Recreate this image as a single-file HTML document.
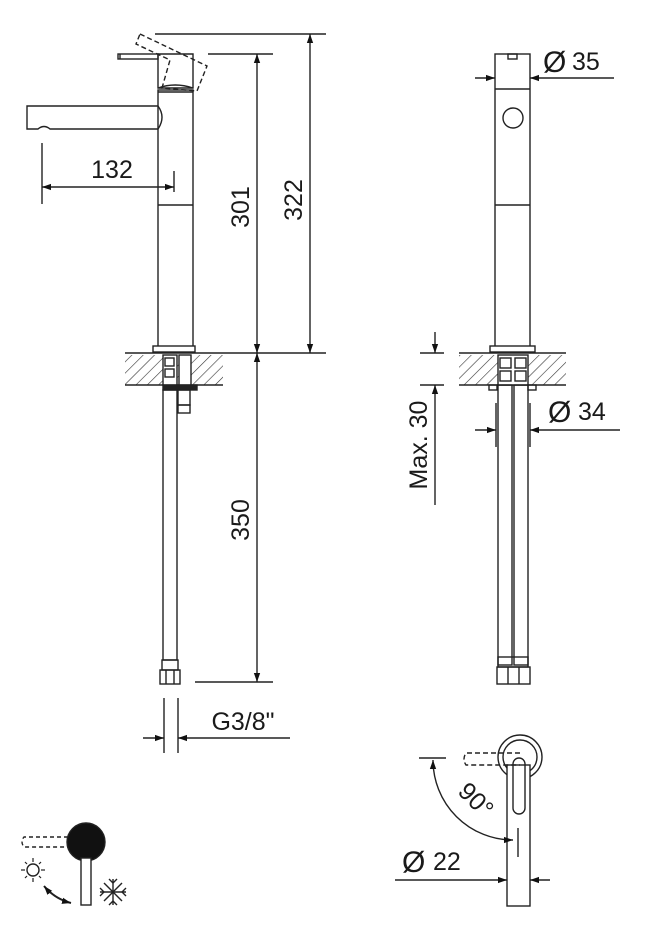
<!DOCTYPE html>
<html><head><meta charset="utf-8"><style>
html,body{margin:0;padding:0;background:#fff}
svg{display:block}
text{font-family:"Liberation Sans",sans-serif;fill:#1a1a1a}
</style></head><body>
<svg width="646" height="950" viewBox="0 0 646 950" xmlns="http://www.w3.org/2000/svg">
<defs>
<pattern id="h" width="8" height="8" patternUnits="userSpaceOnUse" patternTransform="rotate(45)">
<line x1="0" y1="0" x2="0" y2="8" stroke="#333" stroke-width="1.2"/>
</pattern>
<marker id="a" viewBox="0 0 10 10" refX="10" refY="5" markerWidth="9" markerHeight="9" orient="auto-start-reverse" markerUnits="userSpaceOnUse">
<path d="M0,1.5 L10,5 L0,8.5 Z" fill="#111"/>
</marker>
</defs>
<g stroke="#222" stroke-width="1.4" fill="none">
<!-- LEFT VIEW -->
<!-- spout -->
<path d="M158,106 L27,106 L27,129 L38,129 Q44,124 50,129 L158,129"/>
<path d="M158,106 Q166,117 158,129"/>
<!-- body -->
<rect x="158" y="90" width="35" height="260"/>
<line x1="158" y1="205" x2="193" y2="205"/>
<line x1="158" y1="92" x2="193" y2="92"/>
<!-- handle -->
<rect x="118" y="54" width="40" height="5"/>
<line x1="120" y1="54" x2="120" y2="59"/>
<path d="M158,54 L193,54 L193,88 L158,88 Z"/>
<path d="M158,88 Q175,82 193,88"/>
<g stroke-dasharray="5,3">
<path d="M140,34 L207,66 L197,91 L162,88 L170,60 L136,44 Z"/>
</g>
<!-- base, hatch -->
<rect x="125" y="355" width="98" height="30" fill="url(#h)" stroke="none"/>
<line x1="125" y1="385" x2="223" y2="385"/>
<line x1="125" y1="353" x2="326" y2="353"/>
<rect x="153" y="346" width="42" height="6" fill="#fff"/>
<rect x="163" y="355" width="14" height="30" fill="#fff"/>
<rect x="165" y="358" width="9" height="8"/>
<rect x="165" y="369" width="9" height="8"/>
<rect x="179" y="355" width="12" height="30" fill="#fff"/>
<rect x="163" y="385" width="34" height="5" fill="#222"/>
<rect x="163" y="390" width="14" height="270"/>
<rect x="178" y="390" width="12" height="15"/>
<rect x="178" y="405" width="12" height="8"/>
<rect x="162" y="660" width="16" height="10"/>
<rect x="160" y="670" width="20" height="14"/>
<line x1="166" y1="670" x2="166" y2="684"/><line x1="174" y1="670" x2="174" y2="684"/>
<!-- dims left -->
<line x1="42" y1="143" x2="42" y2="204"/>
<line x1="174" y1="171" x2="174" y2="192"/>
<line x1="42" y1="187" x2="174" y2="187" marker-start="url(#a)" marker-end="url(#a)"/>
<line x1="208" y1="54" x2="273" y2="54"/>
<line x1="257" y1="54" x2="257" y2="353" marker-start="url(#a)" marker-end="url(#a)"/>
<line x1="155" y1="34" x2="326" y2="34"/>
<line x1="310" y1="34" x2="310" y2="353" marker-start="url(#a)" marker-end="url(#a)"/>
<line x1="257" y1="353" x2="257" y2="682" marker-start="url(#a)" marker-end="url(#a)"/>
<line x1="195" y1="682" x2="273" y2="682"/>
<line x1="164" y1="698" x2="164" y2="753"/>
<line x1="178" y1="698" x2="178" y2="753"/>
<line x1="143" y1="738" x2="164" y2="738" marker-end="url(#a)"/>
<line x1="290" y1="738" x2="178" y2="738" marker-end="url(#a)"/>

<!-- RIGHT VIEW -->
<rect x="495" y="54" width="35" height="296"/>
<line x1="495" y1="89" x2="530" y2="89"/>
<line x1="495" y1="205" x2="530" y2="205"/>
<rect x="508" y="54" width="9" height="5"/>
<circle cx="513" cy="118" r="10"/>
<line x1="475" y1="78" x2="495" y2="78" marker-end="url(#a)"/>
<line x1="614" y1="78" x2="530" y2="78" marker-end="url(#a)"/>
<rect x="459" y="355" width="107" height="30" fill="url(#h)" stroke="none"/>
<line x1="459" y1="353" x2="566" y2="353"/>
<line x1="459" y1="385" x2="566" y2="385"/>
<rect x="490" y="346" width="45" height="6" fill="#fff"/>
<rect x="498" y="355" width="30" height="30" fill="#fff"/>
<rect x="500" y="358" width="11" height="10"/><rect x="500" y="371" width="11" height="10"/>
<rect x="515" y="358" width="11" height="10"/><rect x="515" y="371" width="11" height="10"/>
<rect x="489" y="385" width="8" height="5"/><rect x="528" y="385" width="8" height="5"/>
<rect x="498" y="385" width="14" height="280"/>
<rect x="514" y="385" width="14" height="280"/>
<line x1="496" y1="403" x2="496" y2="447"/>
<line x1="530" y1="403" x2="530" y2="447"/>
<line x1="475" y1="430" x2="496" y2="430" marker-end="url(#a)"/>
<line x1="620" y1="430" x2="530" y2="430" marker-end="url(#a)"/>
<rect x="498" y="657" width="30" height="10"/>
<rect x="497" y="667" width="33" height="17"/>
<line x1="508" y1="667" x2="508" y2="684"/><line x1="519" y1="667" x2="519" y2="684"/>
<line x1="420" y1="353" x2="444" y2="353"/>
<line x1="420" y1="385" x2="444" y2="385"/>
<line x1="435" y1="332" x2="435" y2="353" marker-end="url(#a)"/>
<line x1="435" y1="505" x2="435" y2="385" marker-end="url(#a)"/>

<!-- BOTTOM RIGHT -->
<circle cx="520" cy="757" r="22"/>
<circle cx="520" cy="757" r="17"/>
<rect x="507" y="765" width="23" height="141" fill="#fff"/>
<rect x="513" y="758" width="12" height="56" rx="6"/>
<path d="M520,753 L466,753 Q462,759 466,765 L520,765" stroke-dasharray="5,3"/>
<line x1="419" y1="758" x2="446" y2="758"/>
<path d="M433,760 A80,80 0 0 0 513,840" marker-start="url(#a)" marker-end="url(#a)"/>
<line x1="518" y1="828" x2="518" y2="857"/>
<line x1="395" y1="880" x2="507" y2="880" marker-end="url(#a)"/>
<line x1="550" y1="880" x2="530" y2="880" marker-end="url(#a)"/>

<!-- BOTTOM LEFT ICON -->
<ellipse cx="86" cy="842" rx="19" ry="19" fill="#111"/>
<rect x="81" y="858" width="10" height="47" fill="#fff"/>
<path d="M68,837 L24,837 Q20,842 24,847 L68,847" stroke-dasharray="4,3"/>
<circle cx="33" cy="870" r="6"/>
<g stroke-width="1.2">
<line x1="33" y1="858" x2="33" y2="862"/><line x1="33" y1="878" x2="33" y2="882"/>
<line x1="21" y1="870" x2="25" y2="870"/><line x1="41" y1="870" x2="45" y2="870"/>
<line x1="25" y1="862" x2="27" y2="864"/><line x1="39" y1="876" x2="41" y2="878"/>
<line x1="41" y1="862" x2="39" y2="864"/><line x1="25" y1="878" x2="27" y2="876"/>
</g>
<path d="M44,886 Q55,899 71,903" stroke-width="2" marker-start="url(#a)" marker-end="url(#a)"/>
<g stroke-width="1.4">
<line x1="113" y1="879" x2="113" y2="905"/>
<line x1="100" y1="892" x2="126" y2="892"/>
<line x1="104" y1="883" x2="122" y2="901"/>
<line x1="122" y1="883" x2="104" y2="901"/>
<path d="M109,879 L113,883 L117,879 M109,905 L113,901 L117,905 M100,888 L104,892 L100,896 M126,888 L122,892 L126,896"/>
</g>
</g>

<!-- TEXT -->
<g font-size="25">
<text x="112" y="178" text-anchor="middle">132</text>
<text transform="translate(249,207) rotate(-90)" text-anchor="middle">301</text>
<text transform="translate(302,200) rotate(-90)" text-anchor="middle">322</text>
<text transform="translate(249,520) rotate(-90)" text-anchor="middle">350</text>
<text x="243" y="730" text-anchor="middle">G3/8"</text>
<text transform="translate(427,445) rotate(-90)" text-anchor="middle">Max. 30</text>
<text x="543" y="72" font-size="30">Ø</text><text x="572" y="70">35</text>
<text x="548" y="422" font-size="30">Ø</text><text x="578" y="420">34</text>
<text x="402" y="872" font-size="30">Ø</text><text x="433" y="870">22</text>
<text transform="translate(470,806) rotate(45)" text-anchor="middle">90°</text>
</g>
</svg>
</body></html>
